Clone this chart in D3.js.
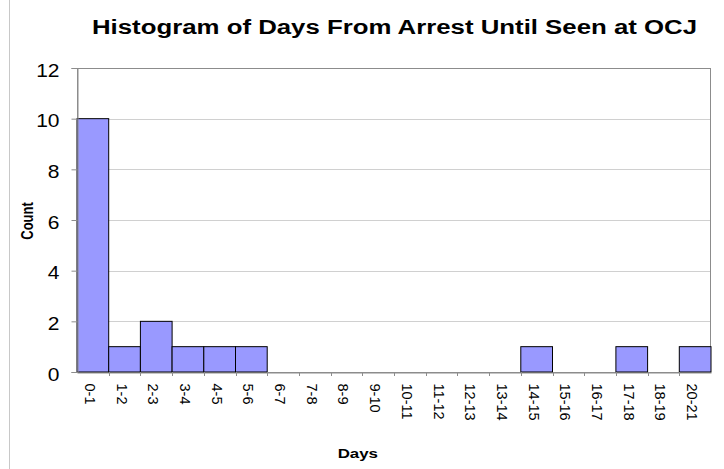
<!DOCTYPE html>
<html>
<head>
<meta charset="utf-8">
<script src="https://cdn.jsdelivr.net/npm/d3@7"></script>
<style>
  body { margin: 0; background: #fff; }
  text { font-family: Arial, "Liberation Sans", sans-serif; fill: #000; }
</style>
</head>
<body>
<svg id="chart" width="724" height="469"></svg>
<script>
// Day ranges and counts
const categories = ["0-1","1-2","2-3","3-4","4-5","5-6","6-7","7-8","8-9","9-10",
  "10-11","11-12","12-13","13-14","14-15","15-16","16-17","17-18","18-19","20-21"];
const counts = [10,1,2,1,1,1,0,0,0,0,0,0,0,0,1,0,0,1,0,1];
const yTicks = [0,2,4,6,8,10,12];

const FONT = "Arial, 'Liberation Sans', sans-serif";
const svg = d3.select("#chart");
const W = 724, H = 469;
const plot = { left: 77, right: 711, top: 68, bottom: 372 };

const x = d3.scaleBand().domain(categories).range([plot.left, plot.right]).padding(0);
const y = d3.scaleLinear().domain([0, 12]).range([plot.bottom, plot.top]);

// outer frame edge on the left
svg.append("line").attr("x1", 9.5).attr("x2", 9.5).attr("y1", 0).attr("y2", H)
  .attr("stroke", "#c8c8c8").attr("stroke-width", 1);

// gridlines
svg.append("g").selectAll("line").data(yTicks.filter(d => d > 0)).join("line")
  .attr("x1", plot.left).attr("x2", plot.right)
  .attr("y1", d => Math.round(y(d)) + 0.5).attr("y2", d => Math.round(y(d)) + 0.5)
  .attr("stroke", "#d0d0d0");

// plot area border
svg.append("rect")
  .attr("x", plot.left + 0.5).attr("y", plot.top + 0.5)
  .attr("width", plot.right - plot.left - 1)
  .attr("height", plot.bottom - plot.top)
  .attr("fill", "none").attr("stroke", "#8c8c8c");

// bars
svg.append("g").selectAll("rect")
  .data(categories.map((c, i) => ({ c, v: counts[i] })).filter(d => d.v > 0))
  .join("rect")
  .attr("x", d => x(d.c))
  .attr("y", d => y(d.v))
  .attr("width", x.bandwidth())
  .attr("height", d => y(0) - y(d.v))
  .attr("fill", "#9999ff").attr("stroke", "#000").attr("stroke-width", 1);

// y axis
const yAxis = svg.append("g").attr("transform", `translate(${plot.left + 0.5},0)`)
  .call(d3.axisLeft(y).tickValues(yTicks).tickSize(6).tickFormat(d3.format("d")));
yAxis.select(".domain").attr("stroke", "#8c8c8c");
yAxis.selectAll(".tick line").attr("stroke", "#8c8c8c");
yAxis.selectAll(".tick text")
  .attr("font-size", 17.5).attr("font-family", FONT)
  .attr("text-anchor", "end").attr("x", null).attr("dy", null)
  .attr("transform", "translate(-18,8) scale(1.2,1)");

// x axis
const xAxis = svg.append("g").attr("transform", `translate(0,${plot.bottom + 0.5})`)
  .call(d3.axisBottom(x).tickSize(0).tickPadding(0));
xAxis.select(".domain").attr("stroke", "#8c8c8c");
xAxis.selectAll(".tick text")
  .attr("font-size", 14.5).attr("font-family", FONT)
  .attr("text-anchor", "start").attr("dy", null).attr("x", 0).attr("y", 0)
  .attr("transform", "translate(-8,11) rotate(90)");
// boundary ticks between categories
svg.append("g").selectAll("line").data(categories.slice(1)).join("line")
  .attr("x1", d => Math.round(x(d)) + 0.5).attr("x2", d => Math.round(x(d)) + 0.5)
  .attr("y1", plot.bottom).attr("y2", plot.bottom + 4)
  .attr("stroke", "#8c8c8c");

// titles
svg.append("text").attr("x", 92).attr("y", 34)
  .attr("font-size", 20).attr("font-weight", "bold")
  .attr("textLength", 605).attr("lengthAdjust", "spacingAndGlyphs")
  .text("Histogram of Days From Arrest Until Seen at OCJ");
svg.append("text").attr("transform", "translate(378,458) scale(1.3,1)").attr("text-anchor", "end")
  .attr("font-size", 13).attr("font-weight", "bold").text("Days");
svg.append("text").attr("transform", "translate(33,221) rotate(-90) scale(1,1.3)").attr("text-anchor", "middle")
  .attr("font-size", 13).attr("font-weight", "bold").text("Count");
</script>
</body>
</html>
